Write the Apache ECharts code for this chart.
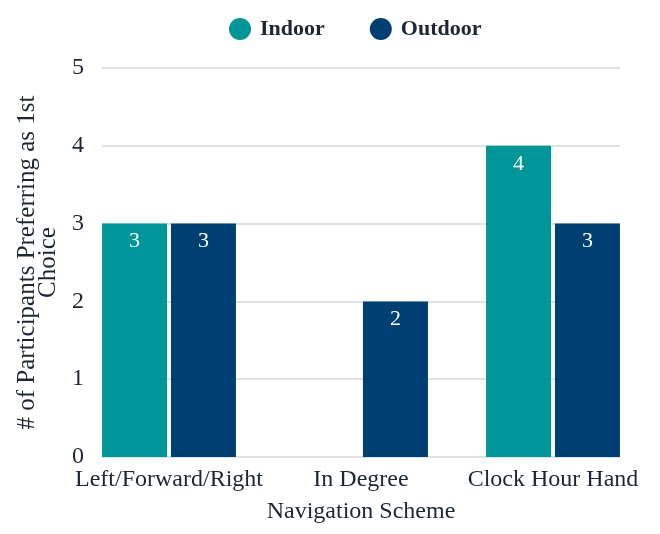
<!DOCTYPE html>
<html>
<head>
<meta charset="utf-8">
<script src="https://cdn.jsdelivr.net/npm/echarts@6/dist/echarts.min.js"></script>
<style>html,body{margin:0;padding:0;background:#fff}#c{width:660px;height:534px}</style>
</head>
<body>
<div id="c"></div>
<script>
var categories = ['Left/Forward/Right', 'In Degree', 'Clock Hour Hand'];
var indoor = [3, 0, 4];
var outdoor = [3, 2, 3];
var yTicks = [0, 1, 2, 3, 4, 5];
var seriesNames = ['Indoor', 'Outdoor'];

var FONT = '"Liberation Serif", "Times New Roman", serif';
var TXT = '#1c2733';
var chart = echarts.init(document.getElementById('c'));
chart.setOption({
  animation: false,
  textStyle: { fontFamily: FONT },
  legend: {
    data: seriesNames,
    top: 13, left: 224,
    icon: 'circle', itemWidth: 22, itemHeight: 22, itemGap: 45,
    textStyle: { fontFamily: FONT, fontSize: 22, fontWeight: 'bold', color: TXT, padding: [0, 0, 0, 4] }
  },
  grid: [
    { left: 102, right: 40, top: 68, bottom: 77 },
    { left: 73, right: 11, top: 68, bottom: 77 }
  ],
  xAxis: [
    { gridIndex: 0, type: 'category', data: categories, show: false },
    { gridIndex: 1, type: 'category', data: categories,
      axisLine: { show: false }, axisTick: { show: false },
      axisLabel: { interval: 0, fontFamily: FONT, fontSize: 24, color: TXT, margin: 11 },
      name: 'Navigation Scheme', nameLocation: 'middle', nameGap: 43,
      nameTextStyle: { fontFamily: FONT, fontSize: 24, color: TXT } }
  ],
  yAxis: [
    { gridIndex: 0, type: 'value', min: yTicks[0], max: yTicks[yTicks.length - 1], interval: 1,
      axisLine: { show: false }, axisTick: { show: false },
      axisLabel: { fontFamily: FONT, fontSize: 24, color: TXT, margin: 18 },
      splitLine: { lineStyle: { color: '#d3d7dc', width: 1.5 } },
      name: '# of Participants Preferring as 1st\nChoice', nameLocation: 'middle', nameRotate: 90, nameGap: 43,
      nameTextStyle: { fontFamily: FONT, fontSize: 25, color: TXT, lineHeight: 21 } },
    { gridIndex: 1, type: 'value', min: yTicks[0], max: yTicks[yTicks.length - 1], interval: 1, show: false,
      splitLine: { show: false } }
  ],
  series: [
    { name: seriesNames[0], type: 'bar', xAxisIndex: 1, yAxisIndex: 1, data: indoor,
      barWidth: 65, barGap: '6%', itemStyle: { color: '#009599' },
      label: { show: true, position: 'insideTop', distance: 7, color: '#fff', fontFamily: FONT, fontSize: 22,
        formatter: function (p) { return p.value ? p.value : ''; } } },
    { name: seriesNames[1], type: 'bar', xAxisIndex: 1, yAxisIndex: 1, data: outdoor,
      barWidth: 65, itemStyle: { color: '#003f71' },
      label: { show: true, position: 'insideTop', distance: 7, color: '#fff', fontFamily: FONT, fontSize: 22,
        formatter: function (p) { return p.value ? p.value : ''; } } }
  ]
});
</script>
</body>
</html>
